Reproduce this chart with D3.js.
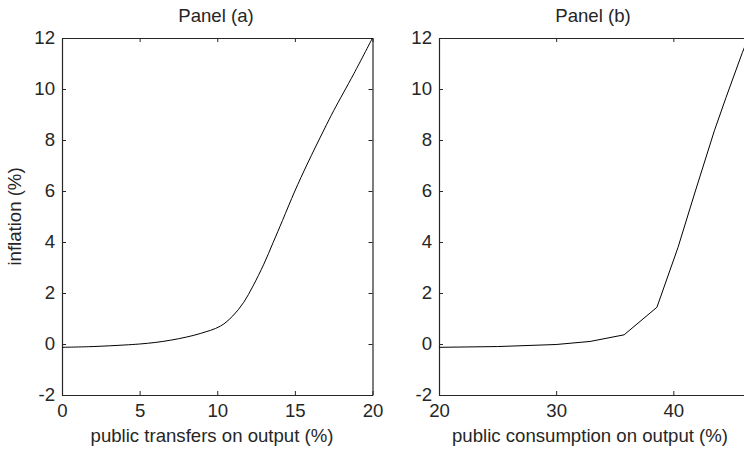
<!DOCTYPE html>
<html>
<head>
<meta charset="utf-8">
<script src="https://cdn.jsdelivr.net/npm/d3@7"></script>
<style>
  body { margin: 0; background: #fff; }
  svg { display: block; }
  text { font-family: 'Liberation Sans', Arial, sans-serif; fill: #262626; }
</style>
</head>
<body>
<div id="chart"></div>
<script>
// panel (a): public transfers on output vs inflation
let transfersX = [0, 2, 4, 5, 6, 7, 8, 8.9, 10.2, 11, 11.7, 12.3, 13, 13.6, 14.2, 15, 15.8, 16.9, 17.5, 18.8, 20]
let transfersY = [-0.13, -0.1, -0.04, 0, 0.06, 0.15, 0.27, 0.41, 0.7, 1.1, 1.63, 2.27, 3.13, 3.98, 4.84, 6.0, 7.06, 8.43, 9.15, 10.6, 12]

// panel (b): public consumption on output vs inflation
let consumptionX = [20, 25, 30, 32.9, 35.8, 38.6, 40.4, 41.8, 43.5, 44.5, 45.9, 46.4]
let consumptionY = [-0.13, -0.1, -0.02, 0.1, 0.36, 1.44, 3.79, 5.88, 8.36, 9.67, 11.44, 12]

let yTicks = [-2, 0, 2, 4, 6, 8, 10, 12]
let xTicksA = [0, 5, 10, 15, 20]
let xTicksB = [20, 30, 40]

let width = 744
let height = 449
let plotTop = 38
let plotBottom = 395
let fontSize = '18.6px'

let svg = d3.select('#chart')
  .append('svg')
  .attr('width', width)
  .attr('height', height)

let yScale = d3.scaleLinear().domain([-2, 12]).range([plotBottom, plotTop])

// plain hyphen for negatives, like the original
let fmt = d => String(d)

let panels = [
  {
    title: 'Panel (a)',
    xlabel: 'public transfers on output (%)',
    ylabel: 'inflation (%)',
    x: d3.scaleLinear().domain([0, 20]).range([62, 372.5]),
    ticks: xTicksA,
    xs: transfersX,
    ys: transfersY,
    curve: d3.curveCatmullRom.alpha(0.5),
    center: 216,
    labelCenter: 212
  },
  {
    title: 'Panel (b)',
    xlabel: 'public consumption on output (%)',
    ylabel: null,
    x: d3.scaleLinear().domain([20, 50]).range([439, 790.5]),
    ticks: xTicksB,
    xs: consumptionX,
    ys: consumptionY,
    curve: d3.curveLinear,
    center: 593,
    labelCenter: 590
  }
]

panels.forEach(p => {
  let g = svg.append('g')
  let [x0, x1] = p.x.range()

  // frame with inward ticks on all four sides
  g.append('g')
    .attr('transform', `translate(${x0},0)`)
    .call(d3.axisLeft(yScale).tickValues(yTicks).tickFormat(fmt).tickSizeInner(-4).tickSizeOuter(0).tickPadding(7))
  g.append('g')
    .attr('transform', `translate(0,${plotBottom})`)
    .call(d3.axisBottom(p.x).tickValues(p.ticks).tickFormat(fmt).tickSizeInner(-4).tickSizeOuter(0).tickPadding(9))
  g.append('g')
    .attr('transform', `translate(0,${plotTop})`)
    .call(d3.axisTop(p.x).tickValues(p.ticks).tickSizeInner(-4).tickSizeOuter(0).tickFormat(''))
  g.append('g')
    .attr('transform', `translate(${x1},0)`)
    .call(d3.axisRight(yScale).tickValues(yTicks).tickSizeInner(-4).tickSizeOuter(0).tickFormat(''))

  g.selectAll('.domain').attr('stroke', '#262626').attr('stroke-width', 1.2)
  g.selectAll('.tick line').attr('stroke', '#262626')
  g.selectAll('.tick text')
    .style('font-family', "'Liberation Sans', Arial, sans-serif")
    .style('font-size', fontSize)
    .attr('fill', '#262626')

  // the data line
  let line = d3.line()
    .x((d, i) => p.x(p.xs[i]))
    .y((d, i) => yScale(p.ys[i]))
    .curve(p.curve)

  g.append('path')
    .datum(p.xs)
    .attr('d', line)
    .attr('fill', 'none')
    .attr('stroke', '#000')
    .attr('stroke-width', 1)

  g.append('text')
    .attr('x', p.center)
    .attr('y', 22)
    .attr('text-anchor', 'middle')
    .style('font-size', fontSize)
    .text(p.title)

  g.append('text')
    .attr('x', p.labelCenter)
    .attr('y', 442)
    .attr('text-anchor', 'middle')
    .style('font-size', fontSize)
    .text(p.xlabel)

  if (p.ylabel) {
    g.append('text')
      .attr('transform', `translate(21,${(plotTop + plotBottom) / 2}) rotate(-90)`)
      .attr('text-anchor', 'middle')
      .style('font-size', fontSize)
      .text(p.ylabel)
  }
})
</script>
</body>
</html>
